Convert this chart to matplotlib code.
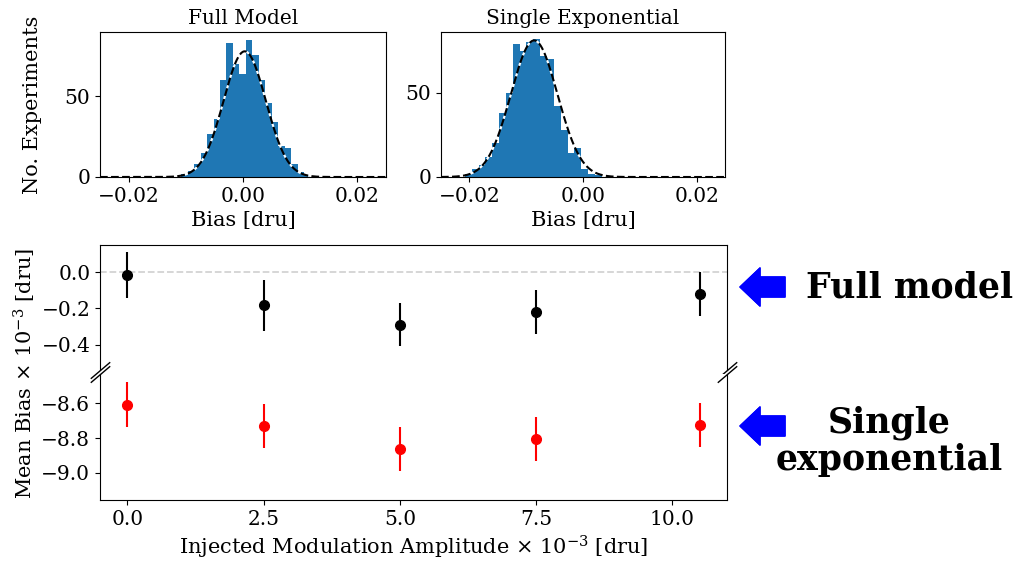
import numpy as np
import matplotlib
matplotlib.use("Agg")
import matplotlib.pyplot as plt

plt.rcParams['font.family'] = ['DejaVu Serif']
plt.rcParams['mathtext.fontset'] = 'dejavuserif'

# histogram counts (20 bins each)
full_counts = [2, 4, 8, 15, 27, 36, 60, 83, 70, 64, 85, 76, 60, 46, 34, 19, 18, 8, 3, 1]
full_range = (-0.0108, 0.0118)
single_counts = [2, 5, 7, 12, 20, 38, 50, 79, 75, 80, 82, 72, 70, 42, 28, 14, 17, 5, 2, 1]
single_range = (-0.0208, 0.0033)

# gaussian fits (mean, sigma, peak height)
full_fit = (0.0003, 0.0037, 78)
single_fit = (-0.0086, 0.0041, 81)

# mean bias vs injected amplitude
amplitude = [0.0, 2.5, 5.0, 7.5, 10.5]
full_bias = [-0.015, -0.182, -0.290, -0.219, -0.120]
full_err = [0.125, 0.140, 0.118, 0.123, 0.120]
single_bias = [-8.606, -8.730, -8.864, -8.806, -8.723]
single_err = [0.128, 0.125, 0.127, 0.127, 0.128]

W, H = 1028, 564
fig = plt.figure(figsize=(W / 100, H / 100), dpi=100)


def box(l, t, r, b):
    return [l / W, 1 - b / H, (r - l) / W, (b - t) / H]


def draw_hist(ax, counts, rng, fit, title):
    edges = np.linspace(rng[0], rng[1], len(counts) + 1)
    ax.stairs(counts, edges, fill=True, color='#1f77b4')
    xs = np.linspace(-0.025, 0.025, 400)
    mu, sig, amp = fit
    ax.plot(xs, amp * np.exp(-0.5 * ((xs - mu) / sig) ** 2), color='k', ls='--',
            gapcolor='white', lw=1.5)
    ax.set_xlim(-0.025, 0.025)
    ax.set_xticks([-0.02, 0.0, 0.02])
    ax.set_yticks([0, 50])
    ax.set_title(title, fontsize=14.5)
    ax.set_xlabel('Bias [dru]', fontsize=15)
    ax.tick_params(labelsize=14.5)


ax1 = fig.add_axes(box(100, 32, 386, 177))
draw_hist(ax1, full_counts, full_range, full_fit, 'Full Model')
ax1.set_ylim(0, 90)
ax1.set_ylabel('No. Experiments', fontsize=15)
ax1.yaxis.set_label_coords((42 - 100) / 286, 0.5)

ax2 = fig.add_axes(box(441, 32, 725, 177))
draw_hist(ax2, single_counts, single_range, single_fit, 'Single Exponential')
ax2.set_ylim(0, 86)

# broken axis panel
top = fig.add_axes(box(100, 245, 727, 370))
bot = fig.add_axes(box(100, 374, 727, 500))

top.axhline(0, color='lightgray', ls='--', lw=1.3)
top.errorbar(amplitude, full_bias, yerr=full_err, fmt='o', color='black', ms=7, elinewidth=1.5)
bot.errorbar(amplitude, single_bias, yerr=single_err, fmt='o', color='red', ms=7, elinewidth=1.5)

top.set_ylim(-0.54, 0.15)
bot.set_ylim(-9.157, -8.43)
for a in (top, bot):
    a.set_xlim(-0.5, 11)
    a.tick_params(labelsize=14.5)
top.set_yticks([0.0, -0.2, -0.4])
bot.set_yticks([-8.6, -8.8, -9.0])
bot.set_xticks([0.0, 2.5, 5.0, 7.5, 10.0])
top.spines['bottom'].set_visible(False)
bot.spines['top'].set_visible(False)
top.tick_params(bottom=False, labelbottom=False)

kw = dict(marker=[(-1, -0.85), (1, 0.85)], markersize=14, linestyle='none',
          color='k', mec='k', mew=1, clip_on=False)
top.plot([0, 1], [0, 0], transform=top.transAxes, **kw)
bot.plot([0, 1], [1, 1], transform=bot.transAxes, **kw)

bot.set_xlabel(r'Injected Modulation Amplitude $\times\ 10^{-3}$ [dru]', fontsize=15)
fig.text(25 / W, 1 - 374 / H, r'Mean Bias $\times\ 10^{-3}$ [dru]', rotation=90,
         ha='center', va='center', fontsize=15)

# annotations on the right
arrow = dict(arrowstyle='simple,head_length=0.72,head_width=1.37,tail_width=0.72',
             color='blue', shrinkA=0, shrinkB=0, mutation_scale=20)
for y in (287, 426):
    fig.add_artist(plt.annotate('', xy=(740, H - y), xytext=(785, H - y),
                                xycoords='figure pixels', arrowprops=arrow))
fig.text(910 / W, 1 - 298 / H, 'Full model', ha='center', va='baseline',
         fontsize=25, fontweight='bold')
fig.text(889 / W, 1 - 433 / H, 'Single', ha='center', va='baseline',
         fontsize=25, fontweight='bold')
fig.text(889 / W, 1 - 470 / H, 'exponential', ha='center', va='baseline',
         fontsize=25, fontweight='bold')

fig.savefig('out.png', dpi=100)
